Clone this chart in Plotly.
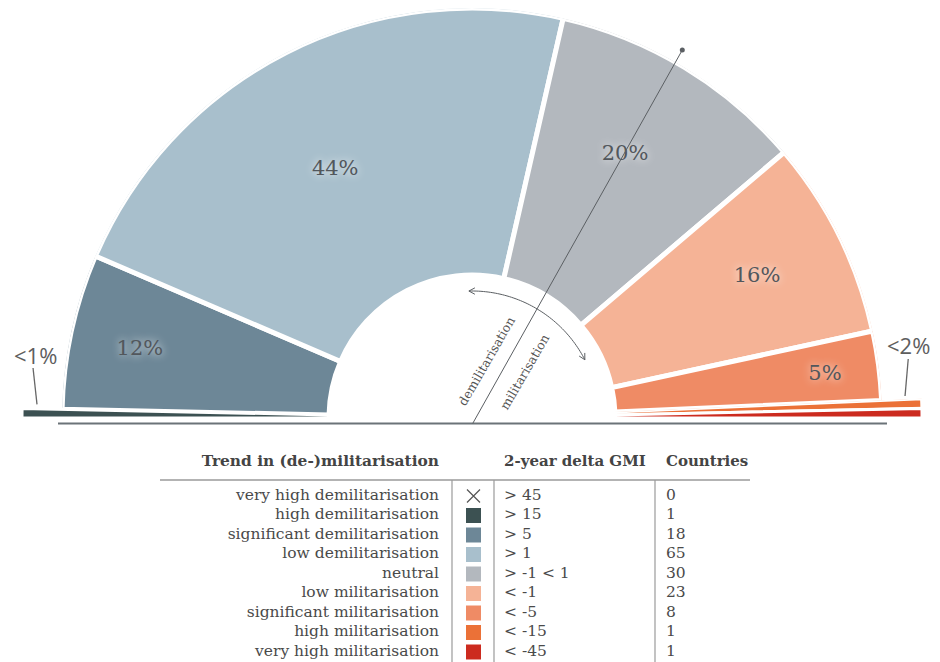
import numpy as np
import plotly.graph_objects as go

# ---------------- data ----------------
CATEGORIES = ["very high demilitarisation", "high demilitarisation", "significant demilitarisation",
              "low demilitarisation", "neutral", "low militarisation", "significant militarisation",
              "high militarisation", "very high militarisation"]
DELTA_GMI = ["> 45", "> 15", "> 5", "> 1", "> -1 < 1", "< -1", "< -5", "< -15", "< -45"]
COUNTRIES = [0, 1, 18, 65, 30, 23, 8, 1, 1]
COLORS = ["#555555", "#3c5152", "#6d8797", "#a8bfcc", "#b3b8be", "#f5b396", "#ef8b65", "#eb7137", "#cc2b1f"]
PCT_LABELS = ["", "<1%", "12%", "44%", "20%", "16%", "5%", "<2%", ""]
HEADERS = ["Trend in (de-)militarisation", "2-year delta GMI", "Countries"]

# ---------------- geometry / style ----------------
OFF = 8                              # page body margin of the html page
W, H = 940 - 2 * OFF, 662 - OFF      # figure size
CX, CY = 472 - OFF, 418 - OFF        # centre of the half circle (figure px)
BASE_Y = 423.5 - OFF
P = 410                              # main polar radius (px)
P_SMALL = 455                        # radius of the small side polars (px)
SMALL_SECTOR = 2.5
R_IN, R_MAIN, R_TINY = 143, 410, 450
# label placement (radius px, angle deg)
LABEL_R = [0, 441.5, 339, 283, 304.3, 318, 355.6, 443, 0]
LABEL_T = [0, 171.8, 168.4, 118.9, 59.8, 26.3, 6.95, 9.5, 0]
SERIF = "DejaVu Serif"
SANS = "Open Sans"
TXT = "#4a4a4a"
DARK = "#5b5f63"


def pol(r, t):
    a = np.deg2rad(t)
    return CX + r * np.cos(a), CY - r * np.sin(a)


counts = np.array(COUNTRIES, dtype=float)
span = 180.0 * counts / counts.sum()
before = np.concatenate([[0], np.cumsum(span)[:-1]])
mid = 180.0 - (before + span / 2)

main_i = [i for i, c in enumerate(COUNTRIES) if c > 1]
right_i = [i for i, c in enumerate(COUNTRIES) if c == 1 and mid[i] < 90]
left_i = [i for i, c in enumerate(COUNTRIES) if c == 1 and mid[i] >= 90]

fig = go.Figure()


def bars(ids, outer, lw, sub):
    fig.add_trace(go.Barpolar(
        theta=[mid[i] for i in ids], width=[span[i] for i in ids],
        r=[outer - R_IN] * len(ids), base=[R_IN] * len(ids),
        marker=dict(color=[COLORS[i] for i in ids], line=dict(color="white", width=lw)),
        hoverinfo="skip", subplot=sub))


bars(main_i, R_MAIN, 5, "polar")
bars(right_i, R_TINY, 3, "polar2")
bars(left_i, R_TINY, 3, "polar3")

# percentage labels inside the slices
fig.add_trace(go.Scatterpolar(
    r=[LABEL_R[i] for i in main_i], theta=[LABEL_T[i] for i in main_i],
    text=[PCT_LABELS[i] for i in main_i], mode="text", cliponaxis=False,
    textfont=dict(family=SERIF, size=21, color="#52575c",
                  shadow="0px 0px 8px rgba(255,255,255,0.9)"),
    hoverinfo="skip", subplot="polar"))

# ---------------- table ----------------
ROW0, ROW_H, TOP = 496 - OFF, 19.5, 440 - OFF
rows = list(range(len(CATEGORIES)))


def ry(px):
    return (px - ROW0) / ROW_H


X_LAB, X_SQ, X_DELTA, X_CNT = 439 - OFF, 473.5 - OFF, 504 - OFF, 666 - OFF
tfont = dict(family=SERIF, size=15.5, color=TXT)
fig.add_trace(go.Scatter(x=[X_LAB] * 9, y=rows, text=CATEGORIES, mode="text", yaxis="y2",
                         textposition="middle left", textfont=tfont, hoverinfo="skip", cliponaxis=False))
fig.add_trace(go.Scatter(x=[X_DELTA] * 9, y=rows, text=DELTA_GMI, mode="text", yaxis="y2",
                         textposition="middle right", textfont=tfont, hoverinfo="skip", cliponaxis=False))
fig.add_trace(go.Scatter(x=[X_CNT] * 9, y=rows, text=[str(c) for c in COUNTRIES], mode="text", yaxis="y2",
                         textposition="middle right", textfont=tfont, hoverinfo="skip", cliponaxis=False))
sq = [i for i in rows if COUNTRIES[i] > 0]
fig.add_trace(go.Scatter(x=[X_SQ] * len(sq), y=sq, mode="markers", yaxis="y2",
                         marker=dict(symbol="square", size=15, color=[COLORS[i] for i in sq],
                                     line=dict(width=0)), hoverinfo="skip"))
zero = [i for i in rows if COUNTRIES[i] == 0]
fig.add_trace(go.Scatter(x=[X_SQ] * len(zero), y=zero, mode="markers", yaxis="y2",
                         marker=dict(symbol="x-thin-open", size=13, color="#555555",
                                     line=dict(width=1.2, color="#555555")), hoverinfo="skip"))
fig.add_trace(go.Scatter(x=[X_LAB], y=[ry(462 - OFF)], text=[HEADERS[0]], mode="text", yaxis="y2",
                         textposition="middle left",
                         textfont=dict(family=SERIF, size=15.4, color="#444444", weight="bold"),
                         hoverinfo="skip", cliponaxis=False))
fig.add_trace(go.Scatter(x=[X_DELTA, X_CNT], y=[ry(462 - OFF)] * 2, text=HEADERS[1:], mode="text",
                         yaxis="y2", textposition="middle right",
                         textfont=dict(family=SERIF, size=15, color="#444444", weight="bold"),
                         hoverinfo="skip", cliponaxis=False))

shapes = []
LINE_C = "#9a9a9a"
shapes.append(dict(type="line", xref="x", yref="y2", x0=160 - OFF, x1=750 - OFF,
                   y0=ry(480 - OFF), y1=ry(480 - OFF), line=dict(color=LINE_C, width=1.5)))
for xv in [452, 494, 655]:
    shapes.append(dict(type="line", xref="x", yref="y2", x0=xv - OFF, x1=xv - OFF,
                       y0=ry(480 - OFF), y1=ry(H + 2), line=dict(color=LINE_C, width=1.2)))

# ---------------- decorations over the half circle ----------------
# baseline
shapes.append(dict(type="line", xref="x", yref="y", x0=58 - OFF, x1=887 - OFF, y0=BASE_Y, y1=BASE_Y,
                   line=dict(color="#6b7378", width=2), layer="above"))
# neutral axis line with end dot
NEU_A, NEU_TOP_Y, NEU_X0 = 60.7, 50 - OFF, CX + 0.7
L = (BASE_Y - NEU_TOP_Y) / np.sin(np.deg2rad(NEU_A))
tip = (NEU_X0 + L * np.cos(np.deg2rad(NEU_A)), BASE_Y - L * np.sin(np.deg2rad(NEU_A)))
shapes.append(dict(type="line", xref="x", yref="y", x0=NEU_X0, y0=BASE_Y, x1=tip[0], y1=tip[1],
                   line=dict(color=DARK, width=1), layer="above"))
shapes.append(dict(type="circle", xref="x", yref="y", x0=tip[0] - 2.5, x1=tip[0] + 2.5,
                   y0=tip[1] - 2.5, y1=tip[1] + 2.5, fillcolor=DARK, line=dict(width=0), layer="above"))
# curved double arrow
ARC_R, ARC_T0, ARC_T1 = 127, 91.4, 27.3
pts = [pol(ARC_R, t) for t in np.linspace(ARC_T0, ARC_T1, 60)]
path = "M " + " L ".join(f"{x:.2f},{y:.2f}" for x, y in pts)
shapes.append(dict(type="path", xref="x", yref="y", path=path, line=dict(color=DARK, width=1),
                   layer="above"))
for t_tip, t_back in [(ARC_T0, ARC_T0 - 3), (ARC_T1, ARC_T1 + 3)]:
    tx, ty = pol(ARC_R, t_tip)
    bx, by = pol(ARC_R, t_back)
    d = np.array([tx - bx, ty - by])
    d /= np.linalg.norm(d)
    n = np.array([-d[1], d[0]])
    a1 = np.array([tx, ty]) - 6 * d + 3.2 * n
    a2 = np.array([tx, ty]) - 6 * d - 3.2 * n
    shapes.append(dict(type="path", xref="x", yref="y",
                       path=f"M {a1[0]:.2f},{a1[1]:.2f} L {tx:.2f},{ty:.2f} L {a2[0]:.2f},{a2[1]:.2f}",
                       line=dict(color=DARK, width=1), layer="above"))
# leader lines for the small slices
LEADERS = [((441.8, 173.5), (435.2, 178.2)), ((440.2, 7.7), (433.6, 2.9))]
for (r0, t0), (r1, t1) in LEADERS:
    x0, y0 = pol(r0, t0)
    x1, y1 = pol(r1, t1)
    shapes.append(dict(type="line", xref="x", yref="y", x0=x0, y0=y0, x1=x1, y1=y1,
                       line=dict(color="#666666", width=1.3), layer="above"))

annotations = []
for i in left_i + right_i[:1]:
    x, y = pol(LABEL_R[i], LABEL_T[i])
    annotations.append(dict(text=PCT_LABELS[i], x=x, y=y, xref="x", yref="y", showarrow=False,
                            font=dict(family=SANS, size=22, color="#5e5e5e")))
annotations.append(dict(text="demilitarisation", x=486 - OFF, y=361 - OFF, xref="x", yref="y",
                        showarrow=False, textangle=-60, font=dict(family=SERIF, size=12.5, color="#555555")))
annotations.append(dict(text="militarisation", x=524 - OFF, y=372 - OFF, xref="x", yref="y",
                        showarrow=False, textangle=-60, font=dict(family=SERIF, size=12.5, color="#555555")))

small_y = [(H - CY) / H, (H - (CY - P_SMALL * np.sin(np.deg2rad(SMALL_SECTOR)))) / H]
hidden_polar = dict(bgcolor="rgba(0,0,0,0)",
                    angularaxis=dict(visible=False, showgrid=False))

fig.update_layout(
    width=W, height=H, margin=dict(l=0, r=0, t=0, b=0),
    paper_bgcolor="white", plot_bgcolor="rgba(0,0,0,0)", showlegend=False,
    polar=dict(domain=dict(x=[(CX - P) / W, (CX + P) / W], y=[(H - CY) / H, 1]),
               sector=[0, 180], radialaxis=dict(range=[0, P], visible=False, showgrid=False),
               **hidden_polar),
    polar2=dict(domain=dict(x=[CX / W, (CX + P_SMALL) / W], y=small_y),
                sector=[0, SMALL_SECTOR], radialaxis=dict(range=[0, P_SMALL], visible=False, showgrid=False),
                **hidden_polar),
    polar3=dict(domain=dict(x=[(CX - P_SMALL) / W, CX / W], y=small_y),
                sector=[180 - SMALL_SECTOR, 180],
                radialaxis=dict(range=[0, P_SMALL], visible=False, showgrid=False),
                **hidden_polar),
    xaxis=dict(domain=[0, 1], range=[0, W], visible=False, fixedrange=True),
    yaxis=dict(domain=[0, 1], range=[H, 0], visible=False, fixedrange=True),
    yaxis2=dict(domain=[0, (H - TOP) / H], range=[ry(H), ry(TOP)], visible=False, fixedrange=True,
                anchor="x"),
    shapes=shapes, annotations=annotations,
)

fig.write_html("out.html")
